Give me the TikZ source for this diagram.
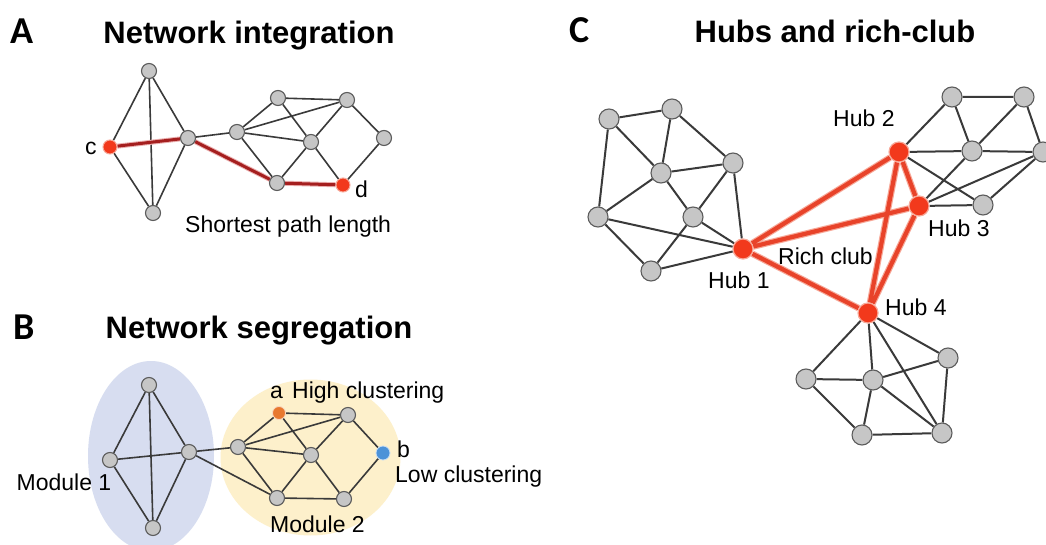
\documentclass[tikz,border=0pt]{standalone}
\usepackage{fontspec}
\setmainfont{Liberation Sans}
\newfontfamily\letterfont{Carlito}
\pgfdeclarelayer{paper}
\pgfdeclarelayer{bg}
\pgfdeclarelayer{edges}
\pgfsetlayers{paper,bg,edges,main}
\definecolor{nodegray}{HTML}{C6C6C6}
\definecolor{nodeborder}{HTML}{5C5C5C}
\definecolor{edgegray}{HTML}{3A3A3A}
\definecolor{hubred}{HTML}{F2391C}
\definecolor{hubhalo}{HTML}{F7A898}
\definecolor{richred}{HTML}{E8432A}
\definecolor{pathred}{HTML}{A51F1F}
\definecolor{pathhalo}{HTML}{EBB0B0}
\definecolor{nodeorange}{HTML}{E8782F}
\definecolor{nodeblue}{HTML}{4C92D8}
\definecolor{modblue}{HTML}{D7DDF0}
\definecolor{modyellow}{HTML}{FDF0CB}
\tikzset{
  gn/.style={circle, draw=nodeborder, fill=nodegray, line width=1.1pt, minimum size=15pt, inner sep=0pt},
  gnc/.style={gn, minimum size=20pt},
  rn/.style={circle, draw=hubhalo, fill=hubred, line width=1pt, minimum size=14pt, inner sep=0pt},
  hub/.style={circle, draw=hubhalo, fill=hubred, line width=1.2pt, minimum size=20pt, inner sep=0pt},
  on/.style={circle, draw=white!70!nodeorange, fill=nodeorange, line width=0.8pt, minimum size=13pt, inner sep=0pt},
  bn/.style={circle, draw=white!70!nodeblue, fill=nodeblue, line width=0.8pt, minimum size=14pt, inner sep=0pt},
  ed/.style={draw=edgegray, line width=1.6pt},
  edc/.style={draw=edgegray, line width=2pt},
  pathhl/.style={draw=pathhalo, line width=5pt},
  pathln/.style={draw=pathred, line width=3pt},
  richhl/.style={draw=hubhalo, line width=6.5pt},
  richln/.style={draw=richred, line width=4.2pt},
  ttl/.style={font=\fontsize{31}{36}\selectfont\bfseries, anchor=base, inner sep=0pt},
  letter/.style={font=\letterfont\fontsize{38}{42}\selectfont\bfseries, anchor=base west, inner sep=0pt},
  lbl/.style={font=\fontsize{23}{27}\selectfont, anchor=base west, inner sep=0pt}
}
\begin{document}
\begin{tikzpicture}[x=1pt,y=-1pt]
\useasboundingbox (0,0) rectangle (1046,545);
\begin{pgfonlayer}{paper}
\fill[white] (0,0) rectangle (1046,545);
\end{pgfonlayer}

% ---------------- Panel A ----------------
\node[letter] (letA) at (10,44) {A};
\node[ttl] (titA) at (249,44) {Network integration};
\node[gn] (aT) at (149,71) {};
\node[rn] (aC) at (110,147) {};
\node[gn] (aR) at (188,138) {};
\node[gn] (aB) at (153,213) {};
\node[gn] (a1) at (237,132) {};
\node[gn] (a2) at (278,98) {};
\node[gn] (a3) at (347,100) {};
\node[gn] (a4) at (311,142) {};
\node[gn] (a5) at (384,138) {};
\node[gn] (a6) at (277,183) {};
\node[rn] (aD) at (343,185) {};
\node[lbl] (lc) at (85,155) {c};
\node[lbl] (ld) at (355,198) {d};
\node[lbl] (lsp) at (185,233) {Shortest path length};
\begin{pgfonlayer}{edges}
\draw[ed] (aT)--(aC) (aT)--(aR) (aT)--(aB) (aC)--(aB) (aR)--(aB)
  (aR)--(a1) (a1)--(a2) (a1)--(a3) (a1)--(a4) (a1)--(a6)
  (a2)--(a3) (a2)--(a4) (a3)--(a4) (a3)--(a5) (a4)--(a6) (a4)--(aD) (a5)--(aD);
\draw[pathhl] (aC)--(aR) (aR)--(a6) (a6)--(aD);
\draw[pathln] (aC)--(aR) (aR)--(a6) (a6)--(aD);
\end{pgfonlayer}

% ---------------- Panel B ----------------
\node[letter] (letB) at (13,339) {B};
\node[ttl] (titB) at (259,338) {Network segregation};
\begin{pgfonlayer}{bg}
\fill[modblue] (151,456) ellipse [x radius=63, y radius=95];
\fill[modyellow] (310.5,457.5) ellipse [x radius=90, y radius=78];
\end{pgfonlayer}
\node[gn] (bT) at (149,385) {};
\node[gn] (bL) at (110,460) {};
\node[gn] (bR) at (189,452) {};
\node[gn] (bB) at (153,528) {};
\node[gn] (b1) at (238,447) {};
\node[on] (bA) at (279,413) {};
\node[gn] (b3) at (348,415) {};
\node[gn] (b4) at (311,455) {};
\node[bn] (bBl) at (383,453) {};
\node[gn] (b6) at (277,498) {};
\node[gn] (b7) at (344,499) {};
\node[lbl] (lm1) at (16.5,490) {Module 1};
\node[lbl] (la) at (270,398) {a};
\node[lbl] (lhc) at (292,398) {High clustering};
\node[lbl] (lb) at (397,457) {b};
\node[lbl] (llc) at (395,482) {Low clustering};
\node[lbl] (lm2) at (270,532) {Module 2};
\begin{pgfonlayer}{edges}
\draw[ed] (bT)--(bL) (bT)--(bR) (bT)--(bB) (bL)--(bR) (bL)--(bB) (bR)--(bB)
  (bR)--(b1) (bR)--(b6) (b1)--(bA) (b1)--(b3) (b1)--(b4) (b1)--(b6)
  (bA)--(b3) (bA)--(b4) (b3)--(b4) (b3)--(bBl) (b4)--(b6) (b4)--(b7)
  (b6)--(b7) (bBl)--(b7);
\end{pgfonlayer}

% ---------------- Panel C ----------------
\node[letter] (letC) at (569,43) {C};
\node[ttl] (titC) at (835,43) {Hubs and rich-club};
\node[gnc] (L1) at (609,119) {};
\node[gnc] (L2) at (672,109) {};
\node[gnc] (L3) at (661,173) {};
\node[gnc] (L4) at (733,163) {};
\node[gnc] (L5) at (598,217) {};
\node[gnc] (L6) at (693,217) {};
\node[gnc] (L7) at (651,271) {};
\node[hub] (H1) at (743,249) {};
\node[hub] (H2) at (899,152) {};
\node[gnc] (R1) at (952,97) {};
\node[gnc] (R2) at (1024,97) {};
\node[gnc] (R3) at (972,151) {};
\node[gnc] (R4) at (1043,152) {};
\node[hub] (H3) at (919,206) {};
\node[gnc] (R5) at (983,205) {};
\node[hub] (H4) at (868,313) {};
\node[gnc] (B1) at (806,379) {};
\node[gnc] (B2) at (873,380) {};
\node[gnc] (B3) at (948,358) {};
\node[gnc] (B4) at (862,435) {};
\node[gnc] (B5) at (942,433) {};
\node[lbl] (lh1) at (708,288) {Hub 1};
\node[lbl] (lrc) at (778,265) {Rich club};
\node[lbl] (lh2) at (833,127) {Hub 2};
\node[lbl] (lh3) at (928,237) {Hub 3};
\node[lbl] (lh4) at (885,315) {Hub 4};
\begin{pgfonlayer}{edges}
\draw[edc] (L1)--(L2) (L1)--(L3) (L1)--(L5) (L2)--(L3) (L2)--(L4) (L3)--(L4)
  (L3)--(L5) (L3)--(L6) (L4)--(L6) (L4)--(H1) (L5)--(L7) (L5)--(H1)
  (L6)--(L7) (L6)--(H1) (L7)--(H1);
\draw[edc] (H2)--(R1) (H2)--(R3) (H2)--(R5) (R1)--(R2) (R1)--(R3) (R2)--(R3)
  (R2)--(R4) (R3)--(R4) (R3)--(H3) (H3)--(R4) (H3)--(R5) (R5)--(R4);
\draw[edc] (H4)--(B1) (H4)--(B2) (H4)--(B3) (H4)--(B5) (B1)--(B2) (B1)--(B4)
  (B2)--(B3) (B2)--(B4) (B2)--(B5) (B3)--(B5) (B4)--(B5);
\draw[richhl] (H1)--(H2) (H1)--(H3) (H1)--(H4) (H2)--(H3) (H2)--(H4) (H3)--(H4);
\draw[richln] (H1)--(H2) (H1)--(H3) (H1)--(H4) (H2)--(H3) (H2)--(H4) (H3)--(H4);
\end{pgfonlayer}
\end{tikzpicture}
\end{document}
